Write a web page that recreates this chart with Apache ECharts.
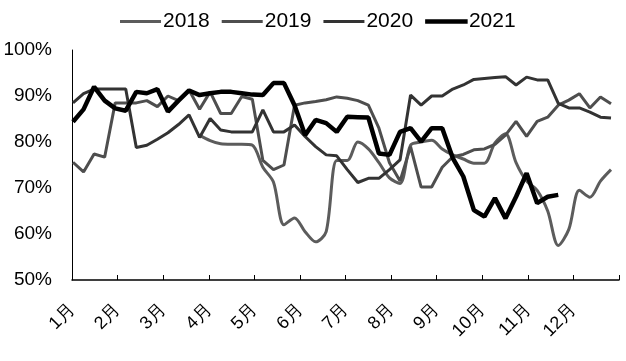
<!DOCTYPE html>
<html>
<head>
<meta charset="utf-8">
<script src="https://cdn.jsdelivr.net/npm/echarts@6/dist/echarts.min.js"></script>
<style>html,body{margin:0;padding:0;background:#fff;}#c{width:626px;height:361px;}</style>
</head>
<body>
<div id="c"></div>
<script>
const monthLabels = ['1月','2月','3月','4月','5月','6月','7月','8月','9月','10月','11月','12月',''];
const weeks = Array.from({length: 52}, (_, i) => 'W' + (i + 1));
const seriesNames = ['2018', '2019', '2020', '2021'];
const s2018 = [null,null,null,null,null,null,null,null,null,null,null,null,
  81.5,80.3,79.6,79.5,79.5,79.3,74.5,71.3,62.0,63.5,60.5,58.3,60.5,76.0,76.0,80.0,78.5,75.5,
  72.2,71.0,79.3,80.0,80.4,78.5,77.2,76.3,75.4,75.4,79.8,81.8,75.5,71.5,69.5,65.0,57.5,61.0,
  69.5,68.0,71.5,74.0];
const s2019 = [75.6,73.5,77.4,76.7,88.5,88.5,88.5,89.0,87.7,90.0,89.0,91.3,87.1,90.9,86.2,86.2,
  89.9,89.3,76.0,74.0,75.0,88.0,88.5,88.8,89.2,89.8,89.5,89.0,88.0,83.0,75.5,71.5,79.0,70.2,
  70.2,74.5,76.8,77.3,78.3,78.5,79.5,81.5,84.5,81.2,84.5,85.4,88.0,89.1,90.5,87.4,89.8,88.3];
const s2020 = [88.5,90.5,91.5,91.5,91.5,91.5,78.8,79.3,80.6,82.0,83.8,85.9,81.0,85.1,82.6,82.2,
  82.2,82.2,87.0,82.2,82.2,83.7,81.2,79.0,77.2,77.0,74.0,71.2,72.1,72.1,74.0,76.1,90.2,88.0,
  90.0,90.0,91.5,92.4,93.6,93.8,94.0,94.2,92.4,94.1,93.5,93.5,88.4,87.4,87.4,86.5,85.4,85.2];
const s2021 = [84.4,87.1,92.0,89.0,87.3,86.8,90.9,90.6,91.5,86.6,89.0,91.2,90.2,90.6,90.9,90.9,
  90.6,90.3,90.2,92.8,92.8,88.0,81.5,84.8,84.1,82.2,85.5,85.4,85.3,77.5,77.2,82.2,83.0,80.1,
  83.0,83.0,76.5,72.5,65.2,63.8,67.8,63.4,68.1,73.2,66.7,68.1,68.5];

const FONT = '"Liberation Sans", Arial, sans-serif';
const chart = echarts.init(document.getElementById('c'), null, {renderer: 'canvas'});
const styles = [
  {color: '#5c5c5c', width: 3, smooth: 0.3},
  {color: '#4e4e4e', width: 3, smooth: false},
  {color: '#333333', width: 3, smooth: false},
  {color: '#000000', width: 4.5, smooth: false}
];
const dataSets = [s2018, s2019, s2020, s2021];
chart.setOption({
  animation: false,
  backgroundColor: '#fff',
  textStyle: {fontFamily: FONT, color: '#000'},
  legend: {
    data: seriesNames.map((n, k) => ({
      name: n, icon: 'rect',
      itemStyle: {color: styles[k].color, borderColor: styles[k].color, borderWidth: k === 3 ? 1.5 : 0}
    })),
    left: 115, top: 6, itemWidth: 41, itemHeight: 3, itemGap: 12,
    textStyle: {fontFamily: FONT, fontSize: 21, color: '#000', padding: [0, 0, 0, -3]}
  },
  grid: [
    {left: 72, right: 7, top: 50, bottom: 81},
    {left: 73, right: 15, top: 50, bottom: 81}
  ],
  xAxis: [
    {type: 'category', gridIndex: 0, data: monthLabels, boundaryGap: false,
     axisLine: {lineStyle: {color: '#000', width: 1.5}},
     axisTick: {show: true, inside: true, length: 5, interval: 0, lineStyle: {color: '#000', width: 1}},
     axisLabel: {interval: 0, rotate: 45, margin: 27, fontSize: 18, color: '#000', fontFamily: FONT},
     splitLine: {show: false}},
    {type: 'category', gridIndex: 1, data: weeks, boundaryGap: false, show: false}
  ],
  yAxis: [
    {type: 'value', gridIndex: 0, min: 50, max: 100, interval: 10,
     axisLine: {show: true, lineStyle: {color: '#000', width: 1}},
     axisTick: {show: false}, splitLine: {show: false},
     axisLabel: {formatter: '{value}%', fontSize: 19, color: '#000', margin: 20, fontFamily: FONT}},
    {type: 'value', gridIndex: 1, min: 50, max: 100, show: false}
  ],
  series: seriesNames.map((n, k) => ({
    name: n, type: 'line', xAxisIndex: 1, yAxisIndex: 1, data: dataSets[k],
    symbol: 'none', smooth: styles[k].smooth, connectNulls: false, z: 2 + k,
    itemStyle: {color: styles[k].color},
    lineStyle: {color: styles[k].color, width: styles[k].width}
  }))
});
</script>
</body>
</html>
